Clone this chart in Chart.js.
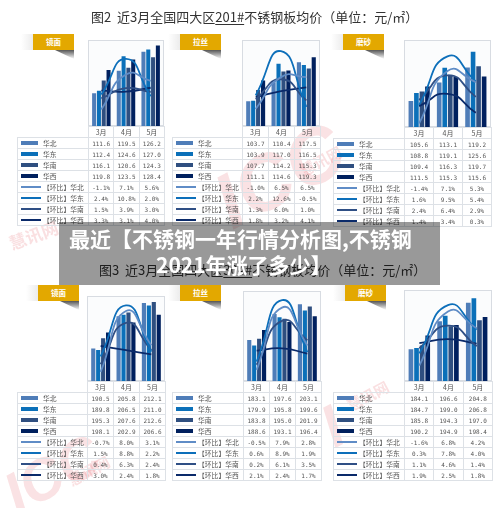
<!DOCTYPE html>
<html lang="zh">
<head>
<meta charset="utf-8">
<title>不锈钢一年行情分析图</title>
<script src="https://cdn.jsdelivr.net/npm/chart.js@4/dist/chart.umd.min.js"></script>
<style>
  html, body { margin: 0; padding: 0; background: #fff; }
  #page { position: relative; width: 500px; height: 508px; overflow: hidden; font-family: "Noto Sans CJK SC", sans-serif; filter: blur(0.25px); }
  .abs { position: absolute; white-space: nowrap; }
  .heading { font-size: 13px; line-height: 18px; color: #333; }
  .heading u { text-underline-offset: 2px; }
  .mark { color: #d9232e; opacity: 0.13; font-weight: 700; font-family: "Liberation Sans", sans-serif; font-style: italic; }
  .markcn { color: #d9232e; opacity: 0.14; font-weight: 700; }
  .tag { background: #e3a800; color: #fff; font-size: 7.5px; font-weight: 700; text-align: center; line-height: 16px; height: 16px; }
  .tab { background: linear-gradient(to right, #fff, #ececec); height: 16px; }
  .shadow { height: 9px; background: linear-gradient(to bottom, #555, rgba(255,255,255,0)); clip-path: polygon(0 0, 100% 0, 100% 100%); }
  .box { border: 1px solid #d8dce2; box-sizing: border-box; background: #fbfcfd; }
  table { position: absolute; border-collapse: collapse; table-layout: fixed; }
  td { border: 1px solid #dde1e6; padding: 0; text-align: center; font-family: "DejaVu Sans Mono", monospace; font-size: 6px; color: #555; line-height: 9px; overflow: hidden; white-space: nowrap; }
  td.blank { border: none; }
  td.month { font-family: "Noto Sans CJK SC", sans-serif; font-size: 7px; }
  td.name { position: relative; text-align: left; font-family: "Noto Sans CJK SC", sans-serif; font-size: 6.8px; }
  td.name span { position: absolute; top: 1px; }
  td.name i { position: absolute; display: block; }
  #banner { left: 59px; top: 222px; width: 381px; height: 63px; background: rgba(0,0,0,0.4); }
  .bannerText { color: #fff; font-size: 21px; font-weight: 700; line-height: 26px; }
</style>
</head>
<body>
<div id="page"></div>
<script>
const months = ['3月', '4月', '5月'];
const regions = ['华北', '华东', '华南', '华西'];

const mirror201Price = [[111.6, 119.5, 126.2], [112.4, 124.6, 127.0], [116.1, 120.6, 124.3], [119.8, 123.5, 128.4]];
const mirror201Mom = [[-1.1, 7.1, 5.6], [2.4, 10.8, 2.0], [1.5, 3.9, 3.0], [3.3, 3.1, 4.0]];
const brushed201Price = [[103.7, 110.4, 117.5], [103.9, 117.0, 116.5], [107.7, 114.2, 115.3], [111.1, 114.6, 119.3]];
const brushed201Mom = [[-1.0, 6.5, 6.5], [2.2, 12.6, -0.5], [1.3, 6.0, 1.0], [1.8, 3.2, 4.1]];
const matte201Price = [[105.6, 113.1, 119.2], [108.8, 119.1, 125.6], [109.4, 116.3, 119.7], [111.5, 115.3, 115.6]];
const matte201Mom = [[-1.4, 7.1, 5.3], [1.6, 9.5, 5.4], [2.4, 6.4, 2.9], [1.4, 3.4, 0.3]];

const mirror304Price = [[190.5, 205.8, 212.1], [189.8, 206.5, 211.0], [195.3, 207.6, 212.6], [198.1, 202.9, 206.6]];
const mirror304Mom = [[-0.7, 8.0, 3.1], [1.5, 8.8, 2.2], [0.4, 6.3, 2.4], [3.0, 2.4, 1.8]];
const brushed304Price = [[183.1, 197.6, 203.1], [179.9, 195.8, 199.6], [183.8, 195.0, 201.9], [188.6, 193.1, 196.4]];
const brushed304Mom = [[-0.5, 7.9, 2.8], [0.6, 8.9, 1.9], [0.2, 6.1, 3.5], [2.1, 2.4, 1.7]];
const matte304Price = [[184.1, 196.6, 204.8], [184.7, 199.0, 206.8], [185.8, 194.3, 197.0], [190.2, 194.9, 198.4]];
const matte304Mom = [[-1.6, 6.8, 4.2], [0.3, 7.8, 4.0], [1.1, 4.6, 1.4], [1.9, 2.5, 1.8]];

const barColors = ['#4f7db8', '#0b70b9', '#2f4f80', '#00205e'];
const lineColors = ['#5f8cc6', '#0d6fba', '#2f4f85', '#0a2a6a'];

// tableX, boxLeft, boxRight, boxTop, boxBottom, tagX
const panels = [
  { name: '镜面', price: mirror201Price, mom: mirror201Mom, range: [100, 130], momRange: [-5, 15], x: 17, l: 88, r: 164, t: 40, b: 126, tag: 33, tagY: 34 },
  { name: '拉丝', price: brushed201Price, mom: brushed201Mom, range: [95, 125], momRange: [-5, 15], x: 172, l: 242, r: 320, t: 40, b: 126, tag: 180, tagY: 34 },
  { name: '磨砂', price: matte201Price, mom: matte201Mom, range: [95, 130], momRange: [-2, 12], x: 333, l: 404, r: 491, t: 40, b: 127, tag: 343, tagY: 34 },
  { name: '镜面', price: mirror304Price, mom: mirror304Mom, range: [175, 215], momRange: [-2, 10], x: 17, l: 87, r: 165, t: 296, b: 381, tag: 38, tagY: 285 },
  { name: '拉丝', price: brushed304Price, mom: brushed304Mom, range: [160, 210], momRange: [-2, 10], x: 172, l: 243, r: 321, t: 291, b: 381, tag: 180, tagY: 285 },
  { name: '磨砂', price: matte304Price, mom: matte304Mom, range: [170, 210], momRange: [-4, 10], x: 333, l: 404, r: 492, t: 290, b: 381, tag: 345, tagY: 285 },
];

const page = document.getElementById('page');

function addDiv(className, css, html) {
  const el = document.createElement('div');
  el.className = 'abs ' + className;
  el.style.cssText = css;
  if (html) el.innerHTML = html;
  page.appendChild(el);
  return el;
}

function drawTag(p) {
  addDiv('tab', `left:${p.tag - 12}px;top:${p.tagY}px;width:12px;`);
  addDiv('tag', `left:${p.tag}px;top:${p.tagY}px;width:41px;`, p.name);
  addDiv('shadow', `left:${p.tag + 22}px;top:${p.tagY + 16}px;width:19px;`);
}

function drawChart(p) {
  const box = addDiv('box', `left:${p.l}px;top:${p.t}px;width:${p.r - p.l}px;height:${p.b - p.t}px;`);
  const canvas = document.createElement('canvas');
  canvas.width = p.r - p.l - 2;
  canvas.height = p.b - p.t - 1;
  canvas.style.display = 'block';
  box.appendChild(canvas);

  const bars = regions.map((region, i) => ({
    type: 'bar',
    label: region,
    data: p.price[i],
    backgroundColor: barColors[i],
    yAxisID: 'y',
    order: 2,
    barPercentage: 0.84,
    categoryPercentage: 0.78,
  }));
  const lines = regions.map((region, i) => ({
    type: 'line',
    label: '【环比】' + region,
    data: p.mom[i],
    borderColor: lineColors[i],
    borderWidth: 1.8,
    pointRadius: 0,
    tension: 0.55,
    yAxisID: 'y1',
    order: 1,
  }));

  new Chart(canvas, {
    data: { labels: months, datasets: [...bars, ...lines] },
    options: {
      responsive: false,
      animation: false,
      layout: { padding: 0 },
      plugins: { legend: { display: false }, tooltip: { enabled: false } },
      scales: {
        x: { display: false },
        y: { display: false, min: p.range[0], max: p.range[1] },
        y1: { display: false, min: p.momRange[0], max: p.momRange[1] },
      },
    },
  });
}

function drawTable(p) {
  const rowH = 11;
  const table = document.createElement('table');
  const colW = (p.r - p.l) / 3;
  const labelW = p.l - p.x;
  table.style.cssText = `left:${p.x}px;top:${p.b}px;width:${p.r - p.x}px;`;
  const cols = [labelW, colW, colW, colW].map((w) => `<col style="width:${w}px">`).join('');
  let html = `<colgroup>${cols}</colgroup>`;
  html += `<tr style="height:${rowH}px"><td class="blank"></td>${months.map((m) => `<td class="month">${m}</td>`).join('')}</tr>`;
  regions.forEach((region, i) => {
    const swatch = `<i style="left:3px;top:3px;width:17px;height:4px;background:${barColors[i]}"></i>`;
    html += `<tr style="height:${rowH}px"><td class="name">${swatch}<span style="left:25px">${region}</span></td>`;
    html += p.price[i].map((v) => `<td>${v.toFixed(1)}</td>`).join('') + '</tr>';
  });
  regions.forEach((region, i) => {
    const swatch = `<i style="left:3px;top:4px;width:20px;height:1.5px;background:${lineColors[i]}"></i>`;
    html += `<tr style="height:${rowH}px"><td class="name">${swatch}<span style="left:25px">【环比】${region}</span></td>`;
    html += p.mom[i].map((v) => `<td>${v.toFixed(1)}%</td>`).join('') + '</tr>';
  });
  table.innerHTML = html;
  page.appendChild(table);
}

// faint red watermark behind everything
addDiv('mark', 'left:212px;top:130px;font-size:78px;transform:rotate(-28deg);', 'ICC');
addDiv('mark', 'left:2px;top:440px;font-size:58px;transform:rotate(-28deg);', 'ICC');
addDiv('mark', 'left:324px;top:392px;font-size:60px;transform:rotate(-28deg);', 'I');
addDiv('markcn', 'left:8px;top:222px;font-size:17px;transform:rotate(-20deg);', '慧讯网');
addDiv('markcn', 'left:298px;top:150px;font-size:15px;transform:rotate(-28deg);', '慧讯网');
addDiv('markcn', 'left:66px;top:460px;font-size:15px;transform:rotate(-28deg);', '慧讯网');
addDiv('markcn', 'left:345px;top:385px;font-size:15px;transform:rotate(-28deg);', '慧讯网');

addDiv('heading', 'left:91px;top:8px;', '图2&nbsp; 近3月全国四大区<u>201#</u>不锈钢板均价（单位：元/㎡）');
addDiv('heading', 'left:99px;top:261px;', '图3&nbsp; 近3月全国四大区<u>304#</u>不锈钢板均价（单位：元/㎡）');

panels.forEach((p) => {
  drawTag(p);
  drawChart(p);
  drawTable(p);
});

addDiv('', '', '').id = 'banner';
addDiv('bannerText', 'left:69px;top:225px;', '最近【不锈钢一年行情分析图,不锈钢');
addDiv('bannerText', 'left:156px;top:251px;', '2021年涨了多少】');
</script>
</body>
</html>
